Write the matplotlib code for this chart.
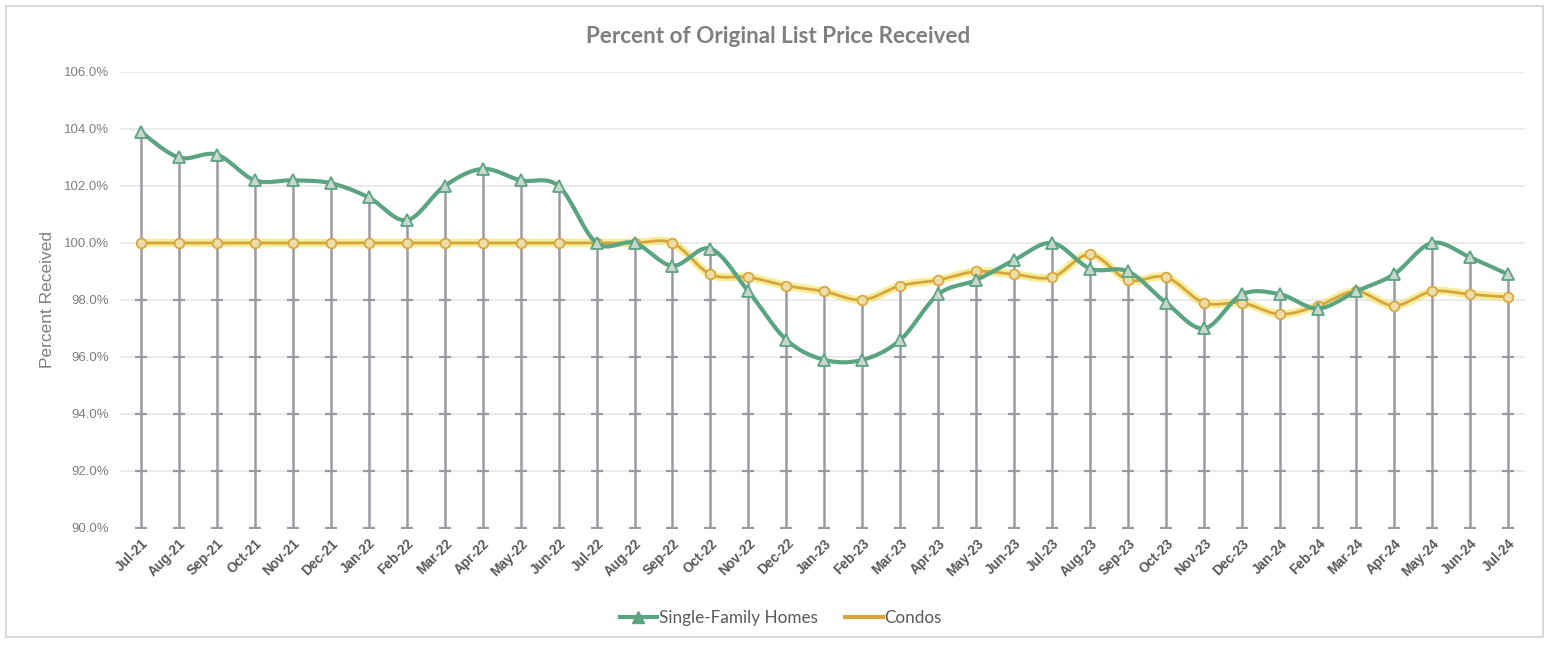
import numpy as np
import matplotlib
matplotlib.use("Agg")
from matplotlib import pyplot as plt
from matplotlib.lines import Line2D
from matplotlib.patches import Rectangle

# Data
months = ["Jul-21", "Aug-21", "Sep-21", "Oct-21", "Nov-21", "Dec-21",
          "Jan-22", "Feb-22", "Mar-22", "Apr-22", "May-22", "Jun-22",
          "Jul-22", "Aug-22", "Sep-22", "Oct-22", "Nov-22", "Dec-22",
          "Jan-23", "Feb-23", "Mar-23", "Apr-23", "May-23", "Jun-23",
          "Jul-23", "Aug-23", "Sep-23", "Oct-23", "Nov-23", "Dec-23",
          "Jan-24", "Feb-24", "Mar-24", "Apr-24", "May-24", "Jun-24", "Jul-24"]

single_family = [103.9, 103.0, 103.1, 102.2, 102.2, 102.1,
                 101.6, 100.8, 102.0, 102.6, 102.2, 102.0,
                 100.0, 100.0, 99.2, 99.8, 98.3, 96.6,
                 95.9, 95.9, 96.6, 98.2, 98.7, 99.4,
                 100.0, 99.1, 99.0, 97.9, 97.0, 98.2,
                 98.2, 97.7, 98.3, 98.9, 100.0, 99.5, 98.9]

condos = [100.0, 100.0, 100.0, 100.0, 100.0, 100.0,
          100.0, 100.0, 100.0, 100.0, 100.0, 100.0,
          100.0, 100.0, 100.0, 98.9, 98.8, 98.5,
          98.3, 98.0, 98.5, 98.7, 99.0, 98.9,
          98.8, 99.6, 98.7, 98.8, 97.9, 97.9,
          97.5, 97.8, 98.3, 97.8, 98.3, 98.2, 98.1]

y_ticks = [90, 92, 94, 96, 98, 100, 102, 104, 106]

SF_COLOR = "#5ba482"
CONDO_COLOR = "#d8a43c"
GLOW_COLOR = "#eee45a"
DROP_COLOR = "#9a9aa2"
TEXT_GRAY = "#595959"


def smooth(x, y, n=20):
    """Excel-style smoothed line (Catmull-Rom as cubic Bezier)."""
    x = np.asarray(x, float)
    y = np.asarray(y, float)
    pts = np.column_stack([x, y])
    out = []
    t = np.linspace(0, 1, n)[:, None]
    for i in range(len(pts) - 1):
        p0 = pts[max(i - 1, 0)]
        p1 = pts[i]
        p2 = pts[i + 1]
        p3 = pts[min(i + 2, len(pts) - 1)]
        c1 = p1 + (p2 - p0) / 6
        c2 = p2 - (p3 - p1) / 6
        seg = ((1 - t) ** 3) * p1 + 3 * ((1 - t) ** 2) * t * c1 + 3 * (1 - t) * t ** 2 * c2 + t ** 3 * p2
        out.append(seg if i == 0 else seg[1:])
    out = np.vstack(out)
    return out[:, 0], out[:, 1]


x = np.arange(len(months))
sf = np.array(single_family)
co = np.array(condos)

fig = plt.figure(figsize=(15.52, 6.45), dpi=100)
fig.patches.append(Rectangle((0.004, 0.012), 0.99, 0.978, transform=fig.transFigure,
                             fill=False, edgecolor="#d9d9d9", linewidth=1.5))
ax = fig.add_axes([0.0773, 0.1814, 0.9053, 0.707])

ax.set_xlim(-0.55, len(months) - 0.55)
ax.set_ylim(90, 106)

# faint gridlines
for level in y_ticks[1:]:
    ax.axhline(level, color="#ebebeb", linewidth=1.5, zorder=0)

# drop lines from each point down to the axis
top = np.maximum(sf, co)
ax.vlines(x, 90, top, color=DROP_COLOR, linewidth=1.8, zorder=1)
for level in y_ticks[:-1]:
    below = x[np.minimum(sf, co) > level + 0.3]
    ax.plot(below, [level] * len(below), linestyle="none", marker="_",
            markersize=9, markeredgewidth=1.6, color=DROP_COLOR, zorder=1)

# condos: glow + line + markers
cx, cy = smooth(x, co)
ax.plot(cx, cy, color=GLOW_COLOR, linewidth=6, alpha=0.6, solid_capstyle="round", zorder=2)
ax.plot(cx, cy, color=CONDO_COLOR, linewidth=2, zorder=3)
ax.plot(x, co, linestyle="none", marker="o", markersize=7,
        markerfacecolor="#ecdca8", markeredgecolor=CONDO_COLOR, markeredgewidth=1.2, zorder=4)

# single-family homes
sx, sy = smooth(x, sf)
ax.plot(sx, sy, color=SF_COLOR, linewidth=3, zorder=5)
ax.plot(x, sf, linestyle="none", marker="^", markersize=9,
        markerfacecolor="#c9d6cd", markeredgecolor=SF_COLOR, markeredgewidth=1.3, zorder=6)

ax.set_yticks(y_ticks)
ax.set_yticklabels([f"{v:.1f}%" for v in y_ticks], fontsize=9.5, color="#7f7f7f",
                   family="Liberation Sans")
ax.set_xticks(x)
ax.set_xticklabels(months, rotation=45, ha="right", rotation_mode="anchor",
                   fontsize=9.8, fontweight="bold", color=TEXT_GRAY, family="Liberation Sans")
ax.tick_params(axis="both", length=0, pad=8)
ax.tick_params(axis="x", pad=6)
for spine in ax.spines.values():
    spine.set_visible(False)

ax.set_ylabel("Percent Received", fontsize=12.5, color="#7f7f7f", family="Liberation Sans",
              labelpad=6)
fig.text(0.5015, 0.944, "Percent of Original List Price Received", ha="center", va="center",
         fontsize=16.2, fontweight="bold", color="#7f7f7f", family="Lato")

handles = [
    Line2D([], [], color=SF_COLOR, linewidth=3, marker="^", markersize=9,
           markerfacecolor=SF_COLOR, markeredgecolor=SF_COLOR),
    Line2D([], [], color=CONDO_COLOR, linewidth=3),
]
leg = fig.legend(handles, ["Single-Family Homes", "Condos"], loc="center",
                 bbox_to_anchor=(0.503, 0.042), ncol=2, frameon=False,
                 handlelength=2.2, handletextpad=0.1, columnspacing=1.6,
                 prop={"family": "Lato", "size": 12.3})
for txt in leg.get_texts():
    txt.set_color(TEXT_GRAY)

fig.savefig("out.png", dpi=100, facecolor="white")
